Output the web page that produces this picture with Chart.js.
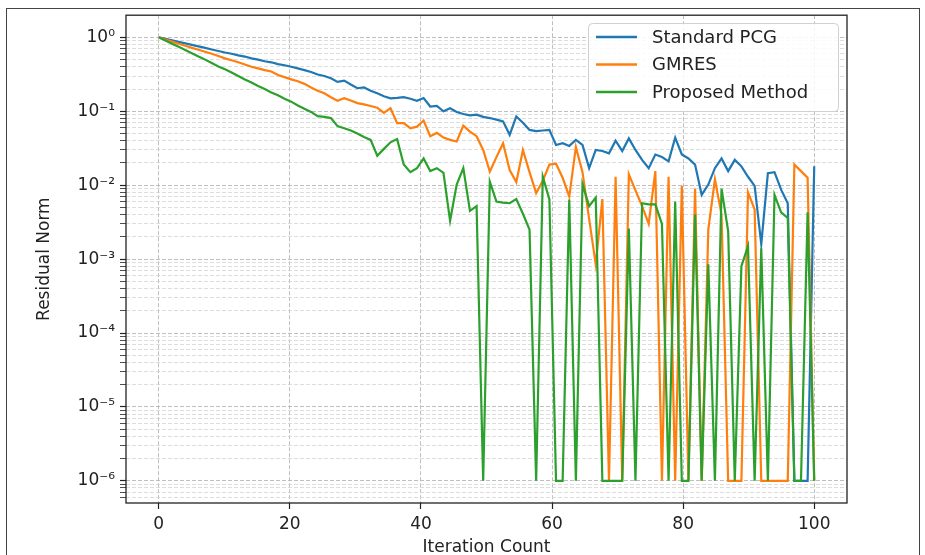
<!DOCTYPE html>
<html>
<head>
<meta charset="utf-8">
<script src="https://cdn.jsdelivr.net/npm/chart.js@4.4.1/dist/chart.umd.min.js"></script>
<style>
  html, body { margin: 0; padding: 0; background: #fff; }
  #wrap { position: relative; width: 925px; height: 555px; }
</style>
</head>
<body>
<div id="wrap"><canvas id="myChart" width="925" height="555"></canvas></div>
<script>
const seriesNames = ['Standard PCG', 'GMRES', 'Proposed Method'];
const seriesColors = ['#1f77b4', '#ff7f0e', '#2ca02c'];
const xTicks = [0, 20, 40, 60, 80, 100];
const yTicks = [1e-6, 1e-5, 1e-4, 1e-3, 1e-2, 1e-1, 1];
const yTickLabels = ['10⁻⁶', '10⁻⁵', '10⁻⁴', '10⁻³', '10⁻²', '10⁻¹', '10⁰'];

// residual norm per iteration
const pcg = [
  1.0, 0.955, 0.91, 0.87, 0.83, 0.79, 0.755, 0.72, 0.685, 0.655,
  0.625, 0.60, 0.57, 0.55, 0.52, 0.50, 0.475, 0.46, 0.435, 0.42,
  0.40, 0.38, 0.36, 0.34, 0.315, 0.30, 0.28, 0.25, 0.26, 0.23,
  0.205, 0.21, 0.19, 0.175, 0.16, 0.15, 0.152, 0.155, 0.148, 0.139,
  0.151, 0.116, 0.118, 0.10, 0.11, 0.098, 0.092, 0.088, 0.09, 0.084,
  0.081, 0.077, 0.073, 0.048, 0.085, 0.07, 0.056, 0.054, 0.055, 0.056,
  0.035, 0.037, 0.034, 0.041, 0.035, 0.017, 0.030, 0.029, 0.027, 0.040,
  0.029, 0.043, 0.030, 0.022, 0.017, 0.026, 0.024, 0.021, 0.044, 0.026,
  0.023, 0.019, 0.0074, 0.0102, 0.017, 0.023, 0.0155, 0.022, 0.018, 0.013,
  0.0098, 0.0016, 0.0145, 0.015, 0.0087, 0.0057, 1e-6, 1e-6, 1e-6, 0.018
];
const gmres = [
  1.0, 0.935, 0.875, 0.82, 0.77, 0.72, 0.68, 0.64, 0.60, 0.56,
  0.52, 0.49, 0.46, 0.43, 0.40, 0.38, 0.36, 0.345, 0.31, 0.29,
  0.27, 0.255, 0.235, 0.21, 0.19, 0.175, 0.155, 0.139, 0.15, 0.14,
  0.129, 0.124, 0.118, 0.112, 0.095, 0.11, 0.069, 0.069, 0.059, 0.062,
  0.075, 0.046, 0.051, 0.044, 0.041, 0.039, 0.064, 0.053, 0.046, 0.030,
  0.0152, 0.024, 0.037, 0.016, 0.011, 0.030, 0.015, 0.0078, 0.0115, 0.019,
  0.0195, 0.0126, 0.007, 0.033, 0.015, 0.0035, 0.00085, 0.0065, 1e-6, 0.013,
  1e-6, 0.014, 0.0085, 0.0052, 0.003, 0.0155, 1e-6, 0.013, 1e-6, 0.0098,
  1e-6, 0.009, 1e-6, 0.0025, 0.012, 0.004, 1e-6, 1e-6, 1e-6, 0.008,
  0.0047, 1e-6, 1e-6, 1e-6, 1e-6, 1e-6, 0.019, 0.0155, 0.0126, 1e-6
];
const proposed = [
  1.0, 0.905, 0.82, 0.745, 0.675, 0.61, 0.55, 0.50, 0.45, 0.405,
  0.37, 0.335, 0.30, 0.27, 0.245, 0.22, 0.20, 0.18, 0.165, 0.148,
  0.135, 0.12, 0.108, 0.098, 0.086, 0.084, 0.081, 0.063, 0.059, 0.055,
  0.050, 0.045, 0.041, 0.025, 0.031, 0.038, 0.042, 0.019, 0.015, 0.017,
  0.023, 0.0155, 0.017, 0.0147, 0.0033, 0.0102, 0.017, 0.0045, 0.0052, 1e-6,
  0.0112, 0.006, 0.0058, 0.0057, 0.0065, 0.0041, 0.0025, 1e-6, 0.013, 0.0064,
  1e-6, 1e-6, 0.0064, 1e-6, 0.0103, 0.0052, 0.0068, 1e-6, 1e-6, 1e-6,
  1e-6, 0.0026, 1e-6, 0.0057, 0.0055, 0.0055, 0.003, 1e-6, 0.006, 1e-6,
  1e-6, 0.004, 1e-6, 0.00085, 1e-6, 0.009, 0.0024, 1e-6, 0.0008, 0.0015,
  1e-6, 0.0014, 1e-6, 0.0074, 0.0043, 0.0036, 1e-6, 1e-6, 0.0043, 1e-6
];

// 100 samples spread evenly from 0 to 100 on the x axis
const iterations = pcg.map((v, i) => i * 100 / (pcg.length - 1));

const FONT = 'DejaVu Sans';
Chart.defaults.font.family = FONT;
Chart.defaults.color = '#222';

function points(values) {
  return values.map((v, i) => ({ x: iterations[i], y: v }));
}

const framePlugin = {
  id: 'frame',
  beforeDraw(chart) {
    const c = chart.ctx;
    c.save();
    c.fillStyle = '#fff';
    c.fillRect(0, 0, chart.width, chart.height);
    c.strokeStyle = '#444';
    c.lineWidth = 1;
    c.strokeRect(6.5, 8.5, 913, 600);
    c.restore();
  },
  afterDatasetsDraw(chart) {
    const { left, top, right, bottom } = chart.chartArea;
    const c = chart.ctx;
    c.save();
    c.strokeStyle = '#222';
    c.lineWidth = 1.3;
    c.strokeRect(left, top, right - left, bottom - top);
    c.restore();
  },
  afterDraw(chart) {
    const c = chart.ctx;
    c.save();
    // legend box
    const bx = 588.5, by = 23.5, bw = 250, bh = 88;
    c.beginPath();
    c.roundRect(bx, by, bw, bh, 4);
    c.fillStyle = 'rgba(255,255,255,0.85)';
    c.fill();
    c.strokeStyle = '#d0d0d0';
    c.lineWidth = 1;
    c.stroke();
    c.font = '18px "' + FONT + '"';
    c.textBaseline = 'middle';
    c.textAlign = 'left';
    chart.data.datasets.forEach((ds, i) => {
      const y = 38 + i * 27.5;
      c.strokeStyle = ds.borderColor;
      c.lineWidth = 2.4;
      c.beginPath();
      c.moveTo(596, y - 1);
      c.lineTo(637, y - 1);
      c.stroke();
      c.fillStyle = '#222';
      c.fillText(ds.label, 652, y);
    });
    c.restore();
  }
};

const ctx = document.getElementById('myChart');

const myChart = new Chart(ctx, {
  type: 'line',
  data: {
    datasets: [pcg, gmres, proposed].map((vals, i) => ({
      label: seriesNames[i],
      data: points(vals),
      borderColor: seriesColors[i],
      backgroundColor: seriesColors[i],
      borderWidth: 2.2,
      pointRadius: 0,
      tension: 0,
      fill: false,
      order: 2 - i
    }))
  },
  options: {
    responsive: false,
    animation: false,
    layout: { padding: { left: 0, top: 14, right: 78, bottom: 0 } },
    plugins: {
      legend: { display: false },
      tooltip: { enabled: false }
    },
    scales: {
      x: {
        type: 'linear',
        min: -5,
        max: 105,
        afterBuildTicks: (scale) => {
          scale.ticks = xTicks.map(v => ({ value: v }));
        },
        afterFit: (scale) => { scale.height = 52; },
        ticks: {
          font: { size: 17 },
          color: '#222',
          padding: 5,
          maxRotation: 0,
          callback: (value) => String(value)
        },
        grid: {
          color: '#b8b8b8',
          lineWidth: 0.9,
          tickLength: 6,
          tickColor: '#222',
          tickWidth: 1.2
        },
        border: { display: false, dash: [4, 2] },
        title: {
          display: true,
          text: 'Iteration Count',
          font: { size: 17 },
          color: '#222',
          padding: { top: 0, bottom: -3 }
        }
      },
      y: {
        type: 'logarithmic',
        min: Math.pow(10, -6.3),
        max: Math.pow(10, 0.3),
        afterBuildTicks: (scale) => {
          const ticks = [];
          for (let m = 6; m <= 9; m++) ticks.push({ value: m * 1e-7, minor: true });
          yTicks.forEach((v, i) => {
            ticks.push({ value: v, minor: false });
            if (i < yTicks.length - 1) {
              for (let m = 2; m <= 9; m++) ticks.push({ value: v * m, minor: true });
            }
          });
          scale.ticks = ticks;
        },
        afterFit: (scale) => { scale.width = 126; },
        ticks: {
          autoSkip: false,
          font: { size: 17 },
          color: '#222',
          padding: 5,
          callback: (value) => {
            const i = yTicks.indexOf(value);
            return i >= 0 ? yTickLabels[i] : '';
          }
        },
        grid: {
          color: (c) => (c.tick && c.tick.minor) ? '#d4d4d4' : '#b8b8b8',
          lineWidth: (c) => (c.tick && c.tick.minor) ? 0.8 : 0.9,
          tickLength: 6,
          tickColor: '#222',
          tickWidth: (c) => (c.tick && c.tick.minor) ? 0.8 : 1.2
        },
        border: { display: false, dash: [4, 2] },
        title: {
          display: true,
          text: 'Residual Norm',
          font: { size: 17 },
          color: '#222',
          padding: { top: 34, bottom: 0 }
        }
      }
    }
  },
  plugins: [framePlugin]
});
</script>
</body>
</html>
